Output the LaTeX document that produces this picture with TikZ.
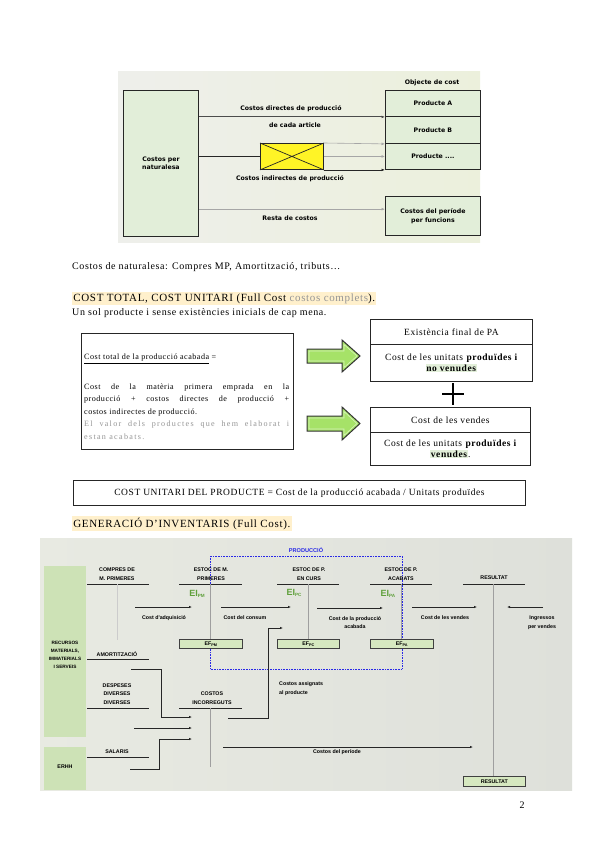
\documentclass[tikz,border=0pt]{standalone}
\usepackage{fontspec}
\setmainfont{Liberation Serif}[LetterSpace=6.0]
\newfontfamily\figfont{DejaVu Sans}
\newfontfamily\smfont{Liberation Sans}
\newfontfamily\widefont{Liberation Serif}[LetterSpace=16.0]
\usetikzlibrary{arrows.meta,calc}
\definecolor{boxgreen}{RGB}{226,238,217}
\definecolor{colgreen}{RGB}{205,226,182}
\definecolor{efgreen}{RGB}{214,232,192}
\definecolor{hlorange}{RGB}{255,240,204}
\definecolor{hlgreen}{RGB}{226,239,217}
\definecolor{arrgreen}{RGB}{166,226,104}
\definecolor{eigreen}{RGB}{96,160,60}
\definecolor{prodblue}{RGB}{40,40,230}
\definecolor{txtgray}{RGB}{150,150,150}
\definecolor{topL}{RGB}{238,239,235}
\definecolor{topR}{RGB}{236,240,220}
\definecolor{botL}{RGB}{232,234,226}
\definecolor{botM}{RGB}{243,244,234}
\definecolor{botR}{RGB}{222,224,218}
\newcommand{\hlg}[1]{{\setlength{\fboxsep}{0.6pt}\colorbox{hlgreen}{\textbf{#1}}}}
\newcommand{\esub}[1]{\raisebox{-1.2pt}{\fontsize{3.8}{4}\selectfont #1}}
\newcommand{\eisub}[1]{\raisebox{-1.6pt}{\fontsize{4.6}{5}\selectfont #1}}
\begin{document}
\begin{tikzpicture}[x=1pt,y=-1pt,
  tf/.style={font=\figfont\bfseries\fontsize{6.2}{8.5}\selectfont, align=center, inner sep=0pt},
  gbox/.style={draw=black!85, line width=0.9pt, fill=boxgreen, anchor=north west, inner sep=0pt, tf},
  body/.style={font=\fontsize{10}{12}\selectfont, inner sep=0pt},
  rbox/.style={draw=black!85, line width=0.9pt, anchor=north west, inner sep=0pt, align=center, font=\fontsize{9.5}{11.5}\selectfont},
  garr/.style={-{Latex[length=3.5pt,width=2.8pt]}, line width=0.6pt, gray!70},
  barr/.style={-{Latex[length=3.5pt,width=2.8pt]}, line width=0.8pt, black!85},
  tline/.style={line width=0.8pt, black!85},
  bf/.style={font=\smfont\bfseries\fontsize{5.3}{8.8}\selectfont, align=center, inner sep=0pt},
  uline/.style={line width=0.7pt, black!85},
  vline/.style={line width=0.5pt, gray!75},
  arr/.style={-{Latex[length=3pt,width=2.4pt]}, line width=0.6pt, black!85},
  efbox/.style={draw=black!75, line width=0.6pt, fill=efgreen, anchor=north west, inner sep=0pt, minimum height=9pt, bf},
  eilab/.style={font=\smfont\bfseries\fontsize{9}{10}\selectfont, text=eigreen, inner sep=0pt},
  blockarrow/.style={line width=1pt, draw=black!80, fill=arrgreen, line join=miter}
]
\useasboundingbox[fill=white] (0,0) rectangle (600,848);

% ---------------- top figure
\shade[left color=topL, right color=topR] (118,72) rectangle (480,242);
\node[gbox, minimum width=75pt, minimum height=146pt] (nat) at (123,90) {Costos per\\naturalesa};
\node[gbox, minimum width=95pt, minimum height=26pt] (pa) at (385,90) {Producte A};
\node[gbox, minimum width=95pt, minimum height=27pt] (pb) at (385,116) {Producte B};
\node[gbox, minimum width=95pt, minimum height=26pt] (pc) at (385,143) {Producte ....};
\node[gbox, minimum width=95pt, minimum height=39pt] (per) at (385,196) {Costos del període\\per funcions};
\node[draw=black!85, line width=0.9pt, fill=yellow!85!white, minimum width=63pt, minimum height=26pt, anchor=north west, inner sep=0pt] (yb) at (260,143) {};
\draw[black!85, line width=0.7pt] (yb.north west) -- (yb.south east) (yb.south west) -- (yb.north east);
\node[tf] (oc) at (432,83) {Objecte de cost};
\node[tf] (cd1) at (291,109) {Costos directes de producció};
\node[tf] (cd2) at (295,125) {de cada article};
\node[tf] (ci) at (290,179) {Costos indirectes de producció};
\node[tf] (rc) at (290,218) {Resta de costos};
\draw[barr, black!70] (nat.east |- pa.south) -- (pa.south west);
\draw[tline] (nat.east |- yb.west) -- (yb.west);
\draw[garr] (yb.north east) -- (pb.south west);
\draw[garr] (yb.east) -- (pc.west);
\draw[barr] (yb.south east) -- (pc.south west);
\coordinate (rcin) at ($(per.north west)!0.33!(per.south west)$);
\draw[garr] (nat.east |- rcin) -- (rcin);

% ---------------- text section
\node[body, anchor=base west] (t1) at (72,269) {Costos de naturalesa: Compres MP, Amortització, tributs…};
\node[anchor=base west, fill=hlorange, inner sep=1.2pt, font=\fontsize{11}{13}\selectfont] (h1) at (72,301) {COST TOTAL, COST UNITARI (Full Cost \textcolor{txtgray}{costos complets}).};
\node[body, anchor=base west] (t2) at (72,315) {Un sol producte i sense existències inicials de cap mena.};

\node[draw=black!85, line width=0.8pt, minimum width=212pt, minimum height=116pt, anchor=north west, inner sep=0pt] (ctbox) at (81,333) {};
\node[anchor=north west, inner sep=0pt, text width=205pt, align=justify, font=\fontsize{8.1}{12.5}\selectfont] (cttext) at (84,354)
 {\underline{Cost total de la producció acabada} =\par\vspace{17pt}
  Cost de la matèria primera emprada en la\linebreak producció + costos directes de producció +\linebreak costos indirectes de producció.\par
  {\widefont\color{txtgray}El valor dels productes que hem elaborat i\linebreak estan acabats.}};

\draw[blockarrow] (307,349) -- (342,349) -- (342,340) -- (360,356) -- (342,372) -- (342,363) -- (307,363) -- cycle;
\draw[blockarrow] (307,416) -- (342,416) -- (342,407) -- (360,423.5) -- (342,440) -- (342,431) -- (307,431) -- cycle;
\draw[white!55!arrgreen, line width=0.6pt] (309,351) -- (344,351) -- (344,344.5) -- (357,356) -- (344,367.5) -- (344,361) -- (309,361) -- cycle;
\draw[white!55!arrgreen, line width=0.6pt] (309,418) -- (344,418) -- (344,411.5) -- (357,423.5) -- (344,435.5) -- (344,429) -- (309,429) -- cycle;

\node[rbox, minimum width=162pt, minimum height=25pt] (efh) at (370,319) {Existència final de PA};
\node[rbox, minimum width=162pt, minimum height=37pt] (efb) at (370,344) {Cost de les unitats \textbf{produïdes i}\\\hlg{no venudes}};
\draw[line width=1.6pt] (442,394) -- (464,394) (453,383) -- (453,405);
\node[rbox, minimum width=160pt, minimum height=25pt] (cvh) at (370,407) {Cost de les vendes};
\node[rbox, minimum width=160pt, minimum height=33pt] (cvb) at (370,432) {Cost de les unitats \textbf{produïdes i}\\\hlg{venudes}.};

\node[draw=black!85, line width=1pt, minimum width=452pt, minimum height=25pt, anchor=north west, inner sep=0pt, font=\fontsize{9.5}{11}\selectfont] (unit) at (73,480) {COST UNITARI DEL PRODUCTE = Cost de la producció acabada / Unitats produïdes};

\node[anchor=base west, fill=hlorange, inner sep=1.2pt, font=\fontsize{11}{13}\selectfont] (h2) at (72,527) {GENERACIÓ D’INVENTARIS (Full Cost).};

\node[body, anchor=base] (pg) at (522,808) {2};

% ---------------- bottom figure
\shade[left color=botL, middle color=botM, right color=botR] (40,538) rectangle (572,790);
\node[fill=colgreen, minimum width=42pt, minimum height=171pt, anchor=north west, inner sep=0pt] (col) at (44,566) {};
\node[fill=colgreen, minimum width=42pt, minimum height=43pt, anchor=north west, inner sep=0pt] (erhh) at (44,747) {};
\node[bf, font=\smfont\bfseries\fontsize{4.7}{8.2}\selectfont] (rec) at (65,655) {RECURSOS\\MATERIALS,\\IMMATERIALS\\I SERVEIS};
\node[bf] (erhht) at (65,767) {ERHH};

% production frame
\draw[prodblue, line width=0.6pt, densely dotted] (210,556) rectangle (402,669);
\node[bf, text=prodblue, font=\smfont\bfseries\fontsize{5.6}{6}\selectfont] (prod) at (306,550) {PRODUCCIÓ};

% T-account headers
\node[bf] (cmp) at (117,574.5) {COMPRES DE\\M. PRIMERES};
\draw[uline] (87,584) -- (149,584);
\draw[vline, gray!40] (117,584) -- (117,640);
\node[bf] (emp) at (211,574.5) {ESTOC DE M.\\PRIMERES};
\draw[uline] (179,584) -- (242,584);
\node[bf] (epc) at (309,574.5) {ESTOC DE P.\\EN CURS};
\draw[uline] (277,584) -- (339,584);
\node[bf] (epa) at (401,574.5) {ESTOC DE P.\\ACABATS};
\draw[uline] (370,584) -- (432,584);
\node[bf] (res) at (494,578) {RESULTAT};
\draw[uline] (463,584) -- (525,584);
\node[bf] (amo) at (117,654) {AMORTITZACIÓ};
\draw[uline] (87,659) -- (149,659);
\node[bf] (desp) at (117,694) {DESPESES\\DIVERSES\\DIVERSES};
\draw[uline] (87,708) -- (149,708);
\node[bf] (inc) at (212,698) {COSTOS\\INCORREGUTS};
\draw[uline] (179,708) -- (242,708);
\node[bf] (sal) at (117,752) {SALARIS};
\draw[uline] (87,757) -- (149,757);

% EF boxes
\node[efbox, minimum width=63pt] (efpm) at (179,639) {EF\esub{PM}};
\node[efbox, minimum width=62pt] (efpc) at (277,639) {EF\esub{PC}};
\node[efbox, minimum width=63pt] (efpa) at (370,639) {EF\esub{PA}};
\node[efbox, minimum width=62pt, minimum height=10pt] (resb) at (463,776) {RESULTAT};

% vertical lines of T accounts
\draw[vline] (210,584) -- (efpm.north -| 210,0);
\draw[vline] (308,584) -- (efpc.north -| 308,0);
\draw[vline] (401,584) -- (efpa.north -| 401,0);
\draw[vline] (493,584) -- (resb.north -| 493,0);
\draw[vline] (210,708) -- (210,767);

% EI labels
\node[eilab] (eipm) at (197,594) {EI\eisub{PM}};
\node[eilab] (eipc) at (294,593) {EI\eisub{PC}};
\node[eilab] (eipa) at (388,594) {EI\eisub{PA}};

% flow arrows
\coordinate (a1s) at (135,607); \coordinate (a1e) at (192,607);
\draw[arr] (a1s) -- (a1e);
\node[bf] (l1) at (164,618) {Cost d'adquisició};
\coordinate (a2s) at (221,607); \coordinate (a2e) at (291,607);
\draw[arr] (a2s) -- (a2e);
\node[bf] (l2) at (245,618) {Cost del consum};
\coordinate (a3s) at (317,608); \coordinate (a3e) at (383,608);
\draw[arr] (a3s) -- (a3e);
\node[bf] (l3) at (355,622.5) {Cost de la producció\\acabada};
\coordinate (a4s) at (412,607); \coordinate (a4e) at (477,607);
\draw[arr] (a4s) -- (a4e);
\node[bf] (l4) at (445,618) {Cost de les vendes};
\coordinate (a5s) at (543,607); \coordinate (a5e) at (507,607);
\draw[arr] (a5s) -- (a5e);
\node[bf] (l5) at (542,622.5) {Ingressos\\per vendes};

\coordinate (a6s) at (228,718); \coordinate (a6e) at (283,628);
\draw[arr, line width=0.7pt] (a6s) -- (268,718) -- (268,628) -- (a6e);
\node[bf, anchor=west, align=left] (l6) at (279,688.5) {Costos assignats\\al producte};

\coordinate (b1s) at (131,669); \coordinate (b1e) at (192,717);
\draw[arr, line width=0.7pt] (b1s) -- (161,669) -- (161,717) -- (b1e);
\coordinate (b2s) at (134,728); \coordinate (b2e) at (192,728);
\draw[arr, line width=0.7pt] (b2s) -- (b2e);
\coordinate (b3s) at (130,769); \coordinate (b3e) at (192,739);
\draw[arr, line width=0.7pt] (b3s) -- (159,769) -- (159,739) -- (b3e);

\coordinate (c1s) at (223,747); \coordinate (c1e) at (473,747);
\draw[arr, line width=0.7pt] (c1s) -- (c1e);
\node[bf] (l7) at (337,752) {Costos del període};
\end{tikzpicture}
\end{document}
